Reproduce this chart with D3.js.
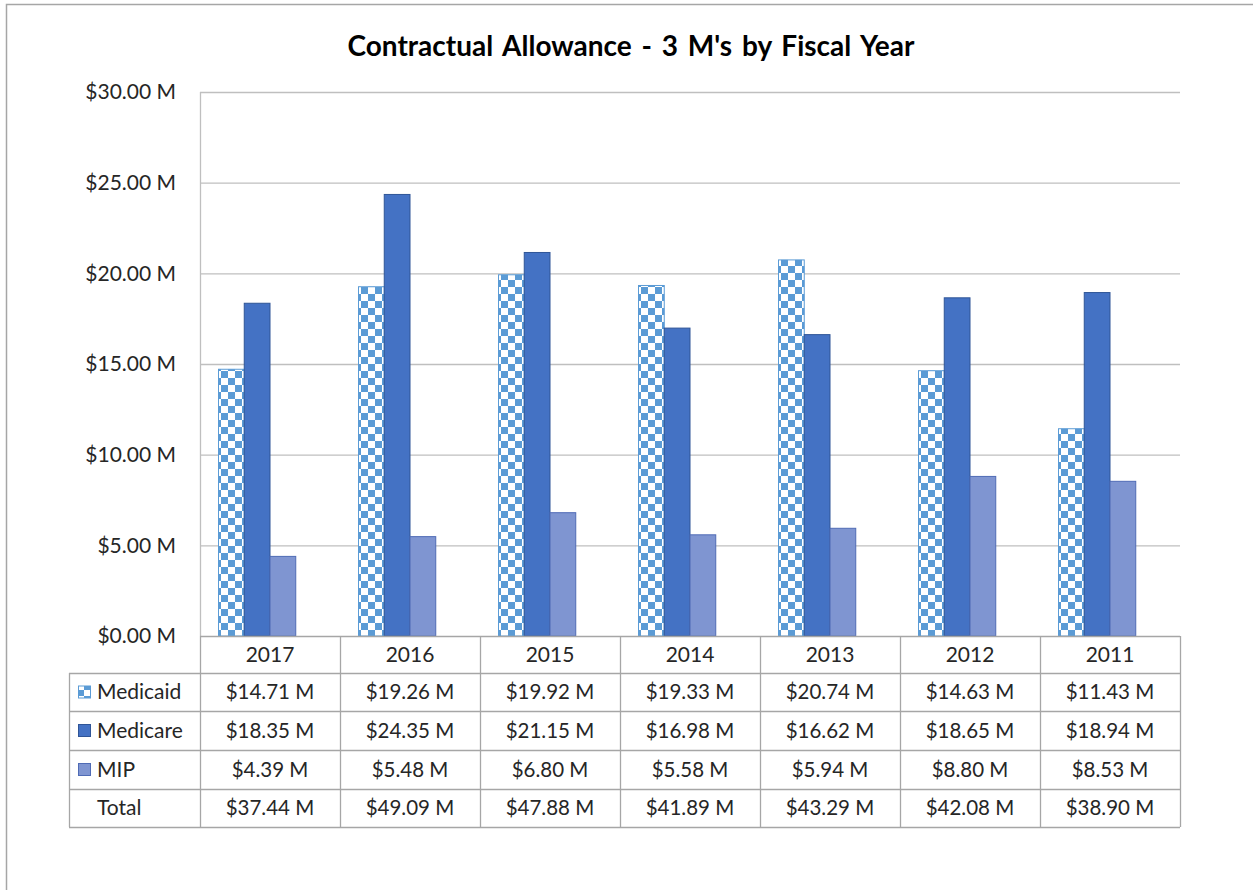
<!DOCTYPE html>
<html>
<head>
<meta charset="utf-8">
<script src="https://cdn.jsdelivr.net/npm/d3@7"></script>
<style>
  body { margin: 0; background: #fff; }
  svg { font-family: Lato, "Open Sans", sans-serif; }
</style>
</head>
<body>
<div id="chart"></div>
<script>
// data
var years = ["2017", "2016", "2015", "2014", "2013", "2012", "2011"];
var series = ["Medicaid", "Medicare", "MIP", "Total"];
var medicaid = [14.71, 19.26, 19.92, 19.33, 20.74, 14.63, 11.43];
var medicare = [18.35, 24.35, 21.15, 16.98, 16.62, 18.65, 18.94];
var mip = [4.39, 5.48, 6.80, 5.58, 5.94, 8.80, 8.53];
var total = [37.44, 49.09, 47.88, 41.89, 43.29, 42.08, 38.90];
var yTicks = [0, 5, 10, 15, 20, 25, 30];

var values = { Medicaid: medicaid, Medicare: medicare, MIP: mip, Total: total };

var W = 1253, H = 890;
var plot = { left: 200, right: 1180, top: 92, bottom: 636 };

var svg = d3.select("#chart").append("svg")
  .attr("width", W).attr("height", H);

// checker pattern for Medicaid
var defs = svg.append("defs");
var pat = defs.append("pattern")
  .attr("id", "checker")
  .attr("patternUnits", "userSpaceOnUse")
  .attr("width", 14).attr("height", 14);
pat.append("rect").attr("width", 14).attr("height", 14).attr("fill", "#fff");
pat.append("rect").attr("width", 7).attr("height", 7).attr("fill", "#5B9BD5");
pat.append("rect").attr("x", 7).attr("y", 7).attr("width", 7).attr("height", 7).attr("fill", "#5B9BD5");

var pat2 = defs.append("pattern")
  .attr("id", "checkerKey")
  .attr("patternUnits", "userSpaceOnUse")
  .attr("width", 12).attr("height", 12);
pat2.append("rect").attr("width", 12).attr("height", 12).attr("fill", "#fff");
pat2.append("rect").attr("width", 6).attr("height", 6).attr("fill", "#5B9BD5");
pat2.append("rect").attr("x", 6).attr("y", 6).attr("width", 6).attr("height", 6).attr("fill", "#5B9BD5");

var fills = { Medicaid: "url(#checker)", Medicare: "#4472C4", MIP: "#7F95D1", Total: "none" };
var strokes = { Medicaid: "#5B9BD5", Medicare: "#2F5597", MIP: "#4F6BB5", Total: "none" };

// outer frame
svg.append("rect")
  .attr("x", 6.5).attr("y", 4.5)
  .attr("width", W).attr("height", H)
  .attr("fill", "none").attr("stroke", "#a6a6a6").attr("stroke-width", 1.5);

// title
svg.append("text")
  .attr("x", 631).attr("y", 56)
  .attr("text-anchor", "middle")
  .attr("font-size", 28).attr("font-weight", "bold")
  .attr("fill", "#000")
  .style("word-spacing", "3px")
  .text("Contractual Allowance - 3 M's by Fiscal Year");

// scales
var x0 = d3.scaleBand().domain(years).range([plot.left, plot.right]).padding(0);
var x1 = d3.scaleBand().domain(series)
  .range([18.5, x0.bandwidth() - 18.5]).padding(0);
var y = d3.scaleLinear().domain([0, 30]).range([plot.bottom, plot.top]);

// gridlines
svg.append("g").selectAll("line")
  .data(yTicks.filter(function(d) { return d > 0; }))
  .enter().append("line")
    .attr("x1", plot.left).attr("x2", plot.right)
    .attr("y1", function(d) { return y(d) + 0.5; })
    .attr("y2", function(d) { return y(d) + 0.5; })
    .attr("stroke", "#bfbfbf").attr("stroke-width", 1.3);

// left axis line
svg.append("line")
  .attr("x1", plot.left + 0.5).attr("x2", plot.left + 0.5)
  .attr("y1", plot.top).attr("y2", plot.bottom)
  .attr("stroke", "#bfbfbf").attr("stroke-width", 1.3);

// y tick labels
svg.append("g").selectAll("text")
  .data(yTicks)
  .enter().append("text")
    .attr("x", 176)
    .attr("y", function(d) { return y(d); })
    .attr("dy", "0.35em")
    .attr("text-anchor", "end")
    .attr("font-size", 21)
    .attr("fill", "#262626")
    .text(function(d) { return "$" + d3.format(".2f")(d) + " M"; });

// bars
var groups = svg.append("g").selectAll("g")
  .data(years)
  .enter().append("g")
    .attr("transform", function(d) { return "translate(" + x0(d) + ",0)"; });

groups.selectAll("rect")
  .data(function(d, i) {
    return ["Medicaid", "Medicare", "MIP"].map(function(s) {
      return { key: s, value: values[s][i] };
    });
  })
  .enter().append("rect")
    .attr("x", function(d) { return x1(d.key); })
    .attr("y", function(d) { return y(d.value); })
    .attr("width", x1.bandwidth())
    .attr("height", function(d) { return y(0) - y(d.value); })
    .attr("fill", function(d) { return fills[d.key]; })
    .attr("stroke", function(d) { return strokes[d.key]; })
    .attr("stroke-width", 1);

// data table
var rowLines = [636, 673, 711, 750, 789, 827];
var tableLeft = 69;
var grid = "#a6a6a6";
var tg = svg.append("g");

// horizontal lines
rowLines.forEach(function(yy, i) {
  tg.append("line")
    .attr("x1", i === 0 ? plot.left : tableLeft).attr("x2", plot.right)
    .attr("y1", yy + 0.5).attr("y2", yy + 0.5)
    .attr("stroke", grid).attr("stroke-width", 1.3);
});
// vertical lines
var colEdges = years.map(function(d) { return x0(d); }).concat([plot.right]);
colEdges.forEach(function(xx) {
  tg.append("line")
    .attr("x1", xx + 0.5).attr("x2", xx + 0.5)
    .attr("y1", rowLines[0]).attr("y2", rowLines[5])
    .attr("stroke", grid).attr("stroke-width", 1.3);
});
tg.append("line")
  .attr("x1", tableLeft + 0.5).attr("x2", tableLeft + 0.5)
  .attr("y1", rowLines[1]).attr("y2", rowLines[5])
  .attr("stroke", grid).attr("stroke-width", 1.3);

// header years
tg.selectAll("text.year")
  .data(years)
  .enter().append("text")
    .attr("class", "year")
    .attr("x", function(d) { return x0(d) + x0.bandwidth() / 2; })
    .attr("y", (rowLines[0] + rowLines[1]) / 2)
    .attr("dy", "0.35em")
    .attr("text-anchor", "middle")
    .attr("font-size", 21)
    .attr("fill", "#262626")
    .text(function(d) { return d; });

// rows
series.forEach(function(s, r) {
  var cy = (rowLines[r + 1] + rowLines[r + 2]) / 2;
  if (s !== "Total") {
    tg.append("rect")
      .attr("x", 78.5).attr("y", cy - 6)
      .attr("width", 12).attr("height", 12)
      .attr("fill", s === "Medicaid" ? "url(#checkerKey)" : fills[s])
      .attr("stroke", strokes[s]).attr("stroke-width", 1);
  }
  tg.append("text")
    .attr("x", 97)
    .attr("y", cy)
    .attr("dy", "0.35em")
    .attr("font-size", 21)
    .attr("fill", "#262626")
    .text(s);
  tg.selectAll("text.v" + r)
    .data(values[s])
    .enter().append("text")
      .attr("x", function(d, i) { return x0(years[i]) + x0.bandwidth() / 2; })
      .attr("y", cy)
      .attr("dy", "0.35em")
      .attr("text-anchor", "middle")
      .attr("font-size", 20.5)
      .attr("fill", "#262626")
      .text(function(d) { return "$" + d3.format(".2f")(d) + " M"; });
});
</script>
</body>
</html>
